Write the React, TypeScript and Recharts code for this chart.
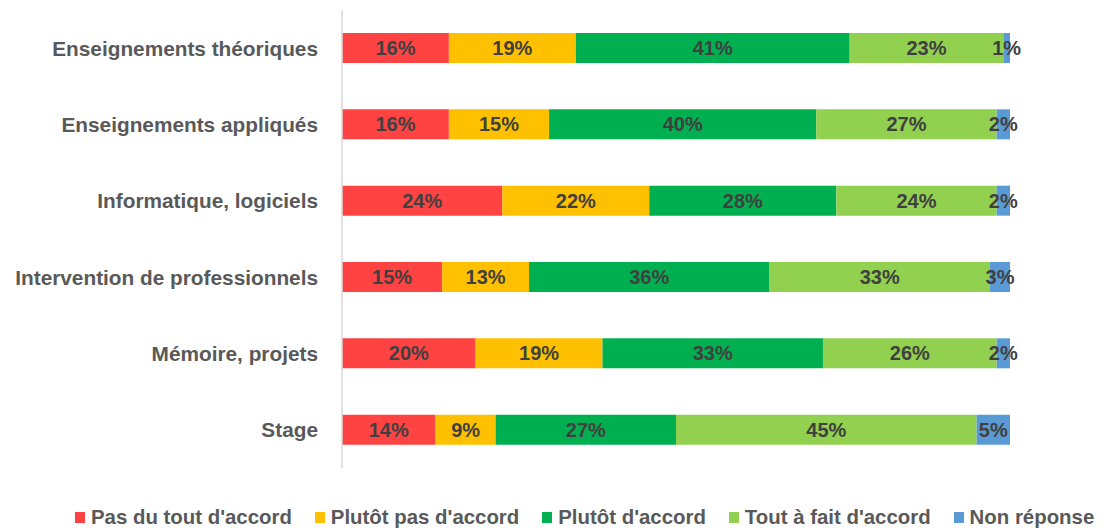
import React from "react";
import {
  BarChart,
  Bar,
  XAxis,
  YAxis,
  LabelList,
  Legend,
} from "recharts";

const categories = [
  "Enseignements théoriques",
  "Enseignements appliqués",
  "Informatique, logiciels",
  "Intervention de professionnels",
  "Mémoire, projets",
  "Stage",
];

const pasDuTout = [16, 16, 24, 15, 20, 14];
const plutotPas = [19, 15, 22, 13, 19, 9];
const plutot = [41, 40, 28, 36, 33, 27];
const toutAFait = [23, 27, 24, 33, 26, 45];
const nonReponse = [1, 2, 2, 3, 2, 5];

const seriesNames = [
  "Pas du tout d'accord",
  "Plutôt pas d'accord",
  "Plutôt d'accord",
  "Tout à fait d'accord",
  "Non réponse",
];

const COLORS = ["#FF4343", "#FFC000", "#00B050", "#92D050", "#5B9BD5"];
const FONT = "'Liberation Sans', Arial, sans-serif";

const data = categories.map((name, i) => ({
  name,
  s0: pasDuTout[i],
  s1: plutotPas[i],
  s2: plutot[i],
  s3: toutAFait[i],
  s4: nonReponse[i],
}));

const keys = ["s0", "s1", "s2", "s3", "s4"];

function LegendContent() {
  return (
    <div
      style={{
        display: "flex",
        alignItems: "center",
        gap: 23,
        fontFamily: FONT,
        fontWeight: 700,
        fontSize: 20.4,
        color: "#595959",
        whiteSpace: "nowrap",
      }}
    >
      {seriesNames.map((n, i) => (
        <div key={n} style={{ display: "flex", alignItems: "center" }}>
          <span
            style={{
              width: 10,
              height: 11,
              background: COLORS[i],
              display: "inline-block",
              marginRight: 6,
            }}
          />
          <span>{n}</span>
        </div>
      ))}
    </div>
  );
}

export default function App() {
  return (
    <div style={{ position: "absolute", left: 0, top: 0, background: "#fff" }}>
      <BarChart
        width={1106}
        height={528}
        data={data}
        layout="vertical"
        barSize={30}
        margin={{ top: 10, right: 96, bottom: 60, left: 0 }}
      >
        <XAxis type="number" domain={[0, 100]} hide />
        <YAxis
          type="category"
          dataKey="name"
          width={342}
          axisLine={{ stroke: "#D9D9D9", strokeWidth: 1.5 }}
          tickLine={false}
          tickSize={0}
          tickMargin={24}
          tick={{
            fill: "#595959",
            fontSize: 20.8,
            fontWeight: 700,
            fontFamily: FONT,
          }}
        />
        {keys.map((k, i) => (
          <Bar
            key={k}
            dataKey={k}
            stackId="a"
            fill={COLORS[i]}
            name={seriesNames[i]}
            isAnimationActive={false}
          >
            <LabelList
              dataKey={k}
              position="center"
              formatter={(v: any) => `${v}%`}
              style={{
                fill: "#404040",
                fontSize: 20,
                fontWeight: 700,
                fontFamily: FONT,
              }}
            />
          </Bar>
        ))}
        <Legend
          layout="horizontal"
          verticalAlign="middle"
          align="center"
          content={<LegendContent />}
          wrapperStyle={{ top: 506, left: 75, width: "auto" }}
        />
      </BarChart>
    </div>
  );
}
